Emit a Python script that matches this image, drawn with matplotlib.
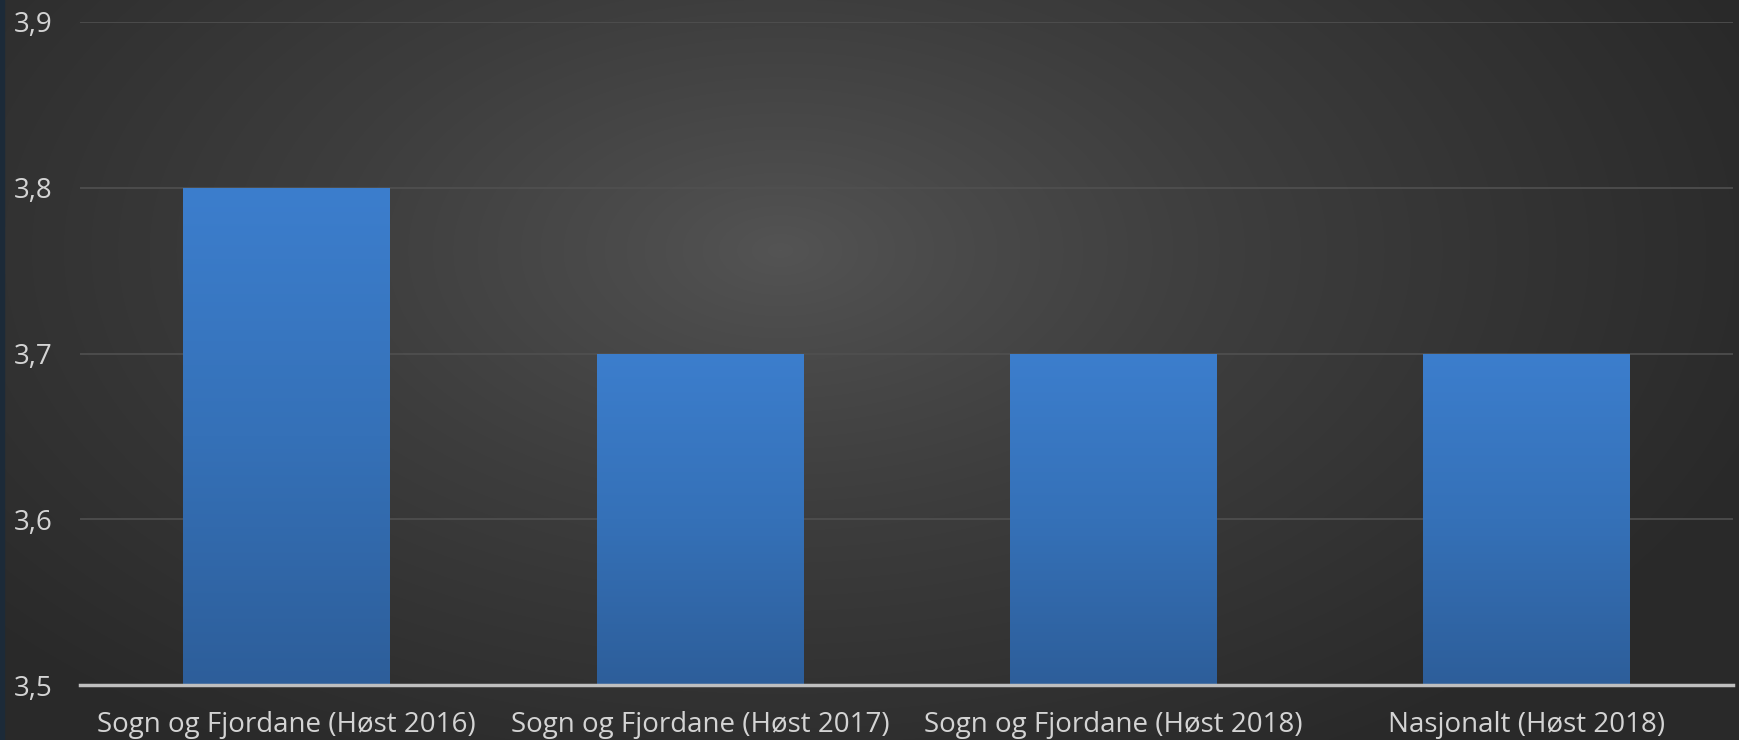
import matplotlib.pyplot as plt
import numpy as np
from matplotlib.colors import LinearSegmentedColormap

# Data
categories = ["Sogn og Fjordane (Høst 2016)", "Sogn og Fjordane (Høst 2017)",
              "Sogn og Fjordane (Høst 2018)", "Nasjonalt (Høst 2018)"]
values = [3.8, 3.7, 3.7, 3.7]
y_ticks = [3.5, 3.6, 3.7, 3.8, 3.9]
y_tick_labels = ["3,5", "3,6", "3,7", "3,8", "3,9"]

TEXT_COLOR = '#d4d4d4'
plt.rcParams['font.family'] = ['Open Sans', 'DejaVu Sans']

fig = plt.figure(figsize=(17.4, 7.4), dpi=100)

# radial gradient background
bg = fig.add_axes([0, 0, 1, 1], zorder=0)
yy, xx = np.mgrid[0:740, 0:1740]
dist = np.sqrt(((xx - 780) / 1050.0) ** 2 + ((yy - 250) / 600.0) ** 2)
dist = np.clip(dist, 0, 1) ** 0.85
bg_cmap = LinearSegmentedColormap.from_list('bg', ['#545454', '#3d3d3d', '#292929'])
bg.imshow(dist, cmap=bg_cmap, aspect='auto', extent=[0, 1, 0, 1], vmin=0, vmax=1)
bg.add_patch(plt.Rectangle((0, 0), 0.0025, 1, color='#1c2a38', transform=bg.transAxes))
bg.set_xlim(0, 1)
bg.set_ylim(0, 1)
bg.axis('off')

ax = fig.add_axes([80 / 1740, 1 - 685 / 740, (1733 - 80) / 1740, (685 - 22) / 740], zorder=1)
ax.patch.set_alpha(0)

x = np.arange(len(categories))
bars = ax.bar(x, values, width=0.5, bottom=0, color='none', zorder=3)

# vertical gradient inside each bar
bar_cmap = LinearSegmentedColormap.from_list('bar', ['#2d5e9a', '#3571b8', '#3c7ecd'])
grad = np.linspace(0, 1, 256).reshape(-1, 1)
for b in bars:
    x0, w, h = b.get_x(), b.get_width(), b.get_height()
    im = ax.imshow(grad, cmap=bar_cmap, origin='lower', aspect='auto',
                   extent=[x0, x0 + w, 3.5, h], zorder=3)
    im.set_clip_path(b)

ax.set_xlim(-0.5, len(categories) - 0.5)
ax.set_ylim(3.5, 3.9)
ax.set_yticks(y_ticks)
ax.set_yticklabels(y_tick_labels)
ax.set_xticks(x)
ax.set_xticklabels(categories)
ax.grid(axis='y', color='#505050', linewidth=1.2, zorder=1)
for s in ['top', 'right', 'left']:
    ax.spines[s].set_visible(False)
ax.spines['bottom'].set_color('#bfbfbf')
ax.spines['bottom'].set_linewidth(2.5)
ax.spines['bottom'].set_zorder(5)
ax.tick_params(axis='both', length=0, colors=TEXT_COLOR, labelsize=20)
ax.tick_params(axis='y', pad=20)
ax.tick_params(axis='x', pad=19)

plt.savefig('out.png', dpi=100)
